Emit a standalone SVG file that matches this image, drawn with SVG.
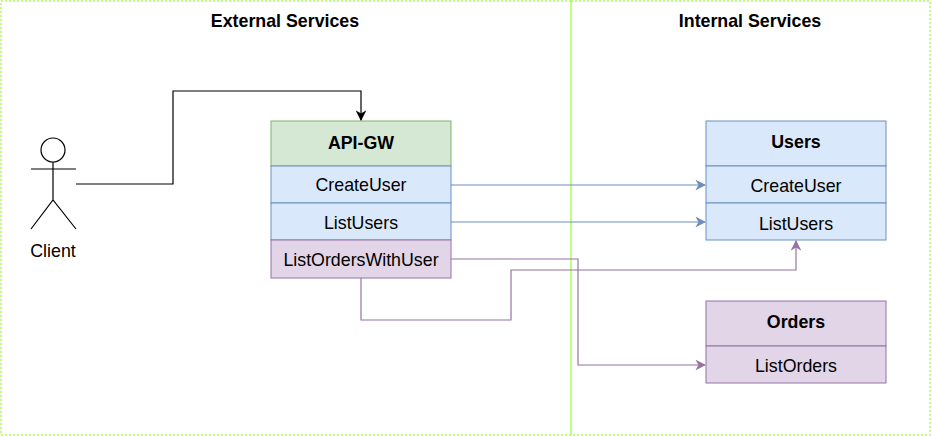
<svg xmlns="http://www.w3.org/2000/svg" width="932" height="437" viewBox="0 0 932 437">
<style>
text{font-family:"Liberation Sans",Arial,sans-serif;font-size:17.8px;text-anchor:middle;fill:#000}
.b{font-weight:bold}
.zone{fill:none;stroke:#80FF00;stroke-dasharray:2 2}
.g{fill:#d5e8d4;stroke:#82b366}
.u{fill:#dae8fc;stroke:#6c8ebf}
.p{fill:#e1d5e7;stroke:#9673a6}
.e{fill:none;stroke-width:1.2}
</style>
<defs>
<marker id="ab" viewBox="0 0 10 10" refX="9" refY="5" markerWidth="9" markerHeight="9" orient="auto"><path d="M0,0 L10,5 L0,10 L3,5 z" fill="#000"/></marker>
<marker id="au" viewBox="0 0 10 10" refX="9" refY="5" markerWidth="9" markerHeight="9" orient="auto"><path d="M0,0 L10,5 L0,10 L3,5 z" fill="#6c8ebf"/></marker>
<marker id="ap" viewBox="0 0 10 10" refX="9" refY="5" markerWidth="9" markerHeight="9" orient="auto"><path d="M0,0 L10,5 L0,10 L3,5 z" fill="#9673a6"/></marker>
</defs>
<g id="external"><rect class="zone" x="1" y="1" width="570" height="434"/><text class="b" x="285" y="27">External Services</text></g>
<g id="internal"><rect class="zone" x="571" y="1" width="359" height="434"/><text class="b" x="750" y="27">Internal Services</text></g>
<g id="client" fill="none" stroke="#000" stroke-width="1.2">
<circle cx="53" cy="150" r="12" fill="#fff"/><path d="M31 169H76M53 162V200M31 229L53 200L76 229"/>
<text x="53" y="257" stroke="none">Client</text></g>
<g id="apigw">
<rect class="g" x="271" y="121" width="180" height="45"/><text class="b" x="361" y="149">API-GW</text>
<rect class="u" x="271" y="166" width="180" height="37"/><text x="361" y="191">CreateUser</text>
<rect class="u" x="271" y="203" width="180" height="37"/><text x="361" y="229">ListUsers</text>
<rect class="p" x="271" y="240" width="180" height="38"/><text x="361" y="266">ListOrdersWithUser</text>
</g>
<g id="users">
<rect class="u" x="706" y="121" width="180" height="45"/><text class="b" x="796" y="148">Users</text>
<rect class="u" x="706" y="166" width="180" height="37"/><text x="796" y="192">CreateUser</text>
<rect class="u" x="706" y="203" width="180" height="37"/><text x="796" y="230">ListUsers</text>
</g>
<g id="orders">
<rect class="p" x="706" y="301" width="180" height="45"/><text class="b" x="796" y="328">Orders</text>
<rect class="p" x="706" y="346" width="180" height="37"/><text x="796" y="372">ListOrders</text>
</g>
<g id="connectors">
<path class="e" stroke="#000" d="M76 184H173V91H361V120" marker-end="url(#ab)"/>
<path class="e" stroke="#6c8ebf" d="M451 185H705" marker-end="url(#au)"/>
<path class="e" stroke="#6c8ebf" d="M451 222H705" marker-end="url(#au)"/>
<path class="e" stroke="#9673a6" d="M451 259H578V365H705" marker-end="url(#ap)"/>
<path class="e" stroke="#9673a6" d="M361 278V320H511V270H796V241" marker-end="url(#ap)"/>
</g>
</svg>
